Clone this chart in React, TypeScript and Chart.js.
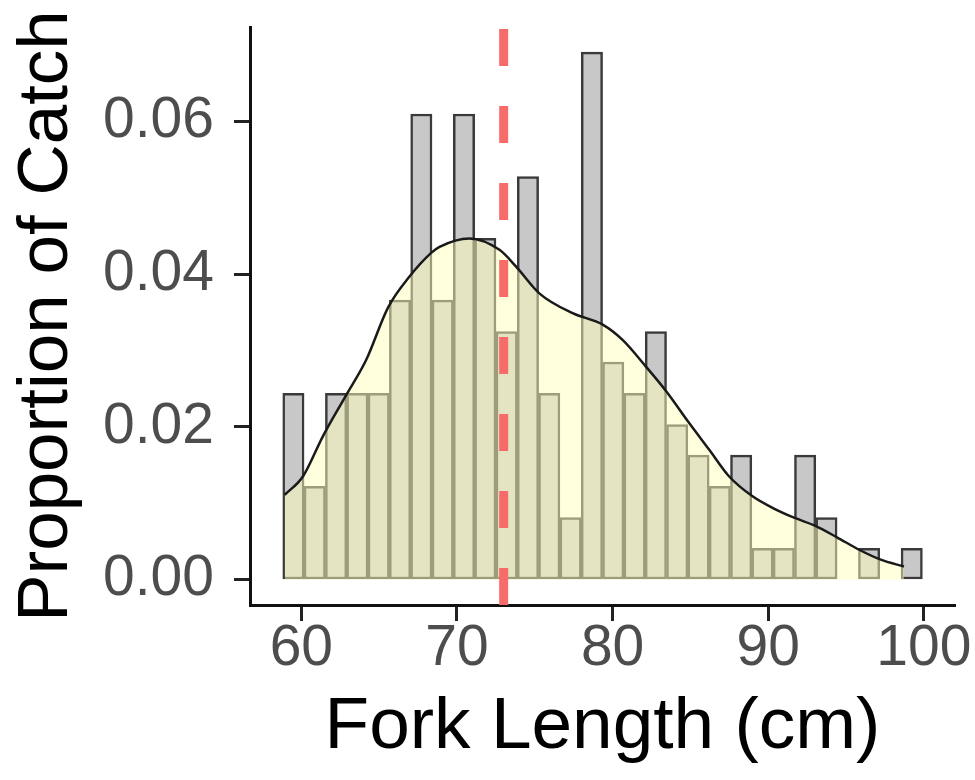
import { useEffect, useRef } from 'react';
import { Chart, registerables } from 'chart.js';

Chart.register(...registerables);

// Histogram bins (fork length, cm): bin centres and proportion of catch per bin
const BIN_CENTERS = [
  59.49, 60.86, 62.23, 63.6, 64.97, 66.34, 67.71, 69.08, 70.45, 71.82,
  73.19, 74.56, 75.93, 77.3, 78.67, 80.04, 81.41, 82.78, 84.15, 85.52,
  86.89, 88.26, 89.63, 91.0, 92.37, 93.74, 95.11, 96.48, 97.85, 99.22,
];
const CATCH_PROPORTION = [
  0.0244, 0.0122, 0.0244, 0.0244, 0.0244, 0.0366, 0.061, 0.0366, 0.061, 0.0447,
  0.0325, 0.0528, 0.0244, 0.0081, 0.0691, 0.0285, 0.0244, 0.0325, 0.0203, 0.0163,
  0.0122, 0.0163, 0.0041, 0.0041, 0.0163, 0.0081, 0, 0.0041, 0, 0.0041,
];

// Kernel density estimate of fork length
const DENSITY_LENGTH = [
  58.93, 60.1, 61.39, 62.89, 64.17, 65.56, 66.95, 68.34, 68.88, 70.8,
  72.73, 73.8, 75.29, 77.43, 79.36, 80.64, 82.14, 83.43, 84.92, 86.21,
  87.49, 88.99, 90.27, 91.66, 93.06, 94.44, 95.84, 97.23, 98.72,
];
const DENSITY_VALUE = [
  0.0111, 0.0135, 0.0188, 0.0242, 0.0288, 0.0356, 0.0397, 0.0428, 0.0436, 0.0447,
  0.0432, 0.041, 0.0375, 0.0349, 0.0334, 0.0314, 0.0279, 0.0247, 0.0205, 0.017,
  0.0135, 0.0109, 0.0094, 0.0081, 0.007, 0.0055, 0.0039, 0.0026, 0.0017,
];

const MEAN_FORK_LENGTH = 73.0;

const X_TICKS = [60, 70, 80, 90, 100];
const Y_TICKS = [0, 0.02, 0.04, 0.06];

const FONT = "'Liberation Sans', Arial, Helvetica, sans-serif";

// Dashed vertical line marking the mean fork length
const meanLinePlugin = {
  id: 'meanLine',
  afterDatasetsDraw(chart: any) {
    const { ctx, chartArea, scales } = chart;
    const x = scales.x.getPixelForValue(MEAN_FORK_LENGTH);
    ctx.save();
    ctx.strokeStyle = '#F86B6B';
    ctx.lineWidth = 9;
    ctx.lineCap = 'butt';
    ctx.setLineDash([37, 40]);
    ctx.beginPath();
    ctx.moveTo(x, chartArea.bottom);
    ctx.lineTo(x, chartArea.top);
    ctx.stroke();
    ctx.restore();
  },
};

export default function App() {
  const canvasRef = useRef<HTMLCanvasElement | null>(null);

  useEffect(() => {
    if (!canvasRef.current) return;
    const chart = new Chart(canvasRef.current, {
      type: 'bar',
      data: {
        datasets: [
          {
            type: 'line',
            label: 'Density',
            data: DENSITY_LENGTH.map((x, i) => ({ x, y: DENSITY_VALUE[i] })),
            borderColor: '#1a1a1a',
            borderWidth: 2.5,
            backgroundColor: 'rgba(255, 255, 190, 0.5)',
            fill: 'origin',
            pointRadius: 0,
            cubicInterpolationMode: 'monotone',
            order: 1,
          } as any,
          {
            type: 'bar',
            label: 'Proportion of Catch',
            data: BIN_CENTERS.map((x, i) => ({ x, y: CATCH_PROPORTION[i] })),
            backgroundColor: '#C8C8C8',
            borderColor: '#3a3a3a',
            borderWidth: 2.5,
            borderSkipped: false,
            barPercentage: 1,
            categoryPercentage: 1,
            order: 2,
          } as any,
        ],
      },
      options: {
        responsive: false,
        animation: false,
        layout: { padding: { top: 27, right: 20, left: 0, bottom: 0 } },
        plugins: {
          legend: { display: false },
          tooltip: { enabled: false },
        },
        scales: {
          x: {
            type: 'linear',
            min: 56.7,
            max: 102.0,
            offset: false,
            afterBuildTicks: (s: any) => {
              s.ticks = X_TICKS.map((v) => ({ value: v }));
            },
            afterFit: (s: any) => {
              s.height = 175;
              s.paddingLeft = 0;
              s.paddingRight = 0;
            },
            grid: {
              drawOnChartArea: false,
              drawTicks: true,
              tickLength: 16,
              tickColor: '#222222',
              tickWidth: 3,
              offset: false,
            },
            border: { display: true, color: '#111111', width: 3 },
            ticks: {
              color: '#4D4D4D',
              font: { family: FONT, size: 57, lineHeight: 1 },
              padding: 0,
              maxRotation: 0,
              autoSkip: false,
              callback: (v: any) => String(v),
            },
            title: {
              display: true,
              text: 'Fork Length (cm)',
              color: '#000000',
              font: { family: FONT, size: 73, lineHeight: 1 },
              padding: { top: 0, bottom: 16 },
            },
          },
          y: {
            type: 'linear',
            min: -0.00334,
            max: 0.0724,
            afterBuildTicks: (s: any) => {
              s.ticks = Y_TICKS.map((v) => ({ value: v }));
            },
            afterFit: (s: any) => {
              s.width = 250;
              s.paddingTop = 0;
              s.paddingBottom = 0;
            },
            grid: {
              drawOnChartArea: false,
              drawTicks: true,
              tickLength: 16,
              tickColor: '#222222',
              tickWidth: 3,
            },
            border: { display: true, color: '#111111', width: 3 },
            ticks: {
              color: '#4D4D4D',
              font: { family: FONT, size: 57, lineHeight: 1 },
              padding: 20,
              autoSkip: false,
              callback: (v: any) => Number(v).toFixed(2),
            },
            title: {
              display: true,
              text: 'Proportion of Catch',
              color: '#000000',
              font: { family: FONT, size: 71, lineHeight: 1 },
              padding: { top: 12, bottom: 0 },
            },
          },
        },
      } as any,
      plugins: [meanLinePlugin],
    });
    return () => chart.destroy();
  }, []);

  return (
    <div style={{ position: 'absolute', left: 0, top: 0, width: 975, height: 780, background: '#ffffff' }}>
      <canvas ref={canvasRef} width={975} height={780} style={{ display: 'block', width: 975, height: 780 }} />
    </div>
  );
}
